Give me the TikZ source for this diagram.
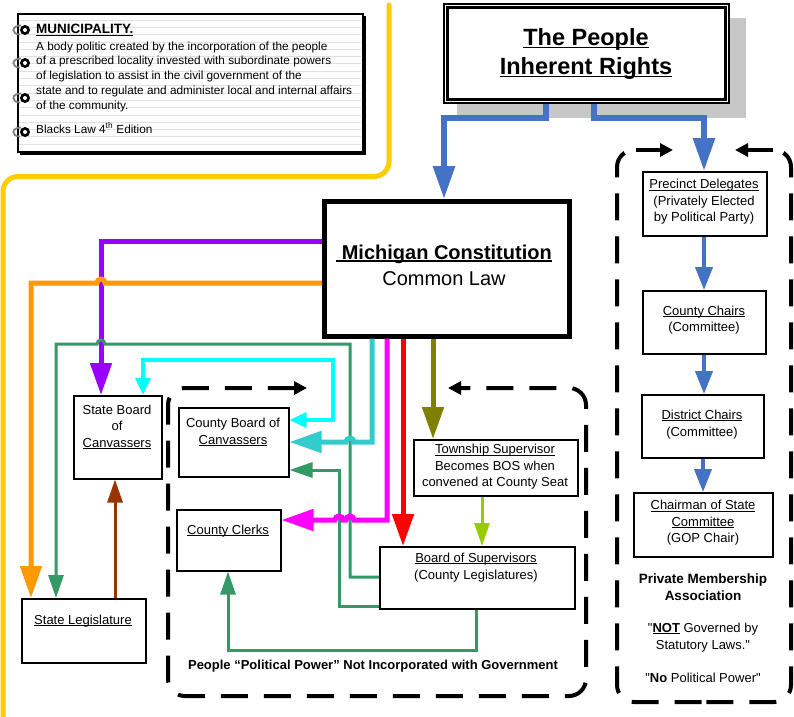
\documentclass[tikz,border=0pt]{standalone}
\usepackage{fontspec}
\setmainfont{Liberation Sans}
\newfontfamily\qfont{Liberation Sans}[Ligatures=TeXOff]
\usetikzlibrary{arrows.meta}
\newcommand{\myul}[1]{\leavevmode\setbox0\hbox{#1}\rlap{\rule[-0.14em]{\wd0}{0.075em}}\box0}
\newcommand{\sq}{{\qfont\mdseries "}}
\definecolor{cgold}{HTML}{FFCC00}
\definecolor{cblue}{HTML}{4472C4}
\definecolor{cpurple}{HTML}{9900FF}
\definecolor{corange}{HTML}{FF9900}
\definecolor{cgreen}{HTML}{339966}
\definecolor{ccyan}{HTML}{00FFFF}
\definecolor{cteal}{HTML}{33CCCC}
\definecolor{cmag}{HTML}{FF00FF}
\definecolor{cred}{HTML}{FF0000}
\definecolor{colive}{HTML}{808000}
\definecolor{cyg}{HTML}{99CC00}
\definecolor{cbrown}{HTML}{993300}
\begin{document}
\begin{tikzpicture}[x=1pt,y=-1pt,
  bx/.style={draw, line width=1.5pt, fill=white, anchor=north west, inner sep=0pt},
  tx/.style={inner sep=0pt, align=center, font=\fontsize{13}{16.5}\selectfont},
  bigtip/.style={-{Triangle[length=32pt,width=21pt]}},
  smalltip/.style={-{Triangle[length=23pt,width=15pt]}},
  dashline/.style={line width=4pt, dash pattern=on 27pt off 16pt, rounded corners=17pt},
  dbox/.style={dashline, {Triangle[length=13pt,width=13pt]}-{Triangle[length=13pt,width=13pt]}},
  inarrow/.style={line width=4pt, -{Triangle[length=13pt,width=13pt]}},
  ring/.style={gray, line width=1.8pt}
]
\useasboundingbox (0,0) rectangle (794,716);

% gold border line
\draw[cgold, line width=5pt, line cap=round, rounded corners=15pt] (389,5) -- (389,176.5) -- (3,176.5) -- (3,722);

% ---- municipality note ----
\fill[black] (20,16) rectangle (365.5,154.5);
\node[bx, minimum width=345pt, minimum height=138pt] (note) at (17,13) {};
\foreach \i in {0,...,17} \draw[black!12, line width=0.8pt] (18.5,{20+\i*7.3}) -- (361,{20+\i*7.3});
\foreach \yy in {30,63,98,132}{
  \draw[ring] (21,\yy-4.5) .. controls (11,\yy-4.5) and (11,\yy+4.5) .. (20,\yy+4.5);
  \fill[black] (25,\yy) circle[radius=5];
  \fill[white] (25,\yy) circle[radius=2];
}
\node[anchor=west, inner sep=0pt, font=\bfseries\fontsize{13.5}{15}\selectfont] (mtitle) at (36,30) {\myul{MUNICIPALITY.}};
\node[anchor=west, inner sep=0pt, align=left, font=\fontsize{11.8}{14.75}\selectfont] (mbody) at (36,76.5)
 {A body politic created by the incorporation of the people\\
  of a prescribed locality invested with subordinate powers\\
  of legislation to assist in the civil government of the\\
  state and to regulate and administer local and internal affairs\\
  of the community.};
\node[anchor=west, inner sep=0pt, font=\fontsize{11.8}{13}\selectfont] (mref) at (36,128) {Blacks Law 4\textsuperscript{th} Edition};

% ---- The People ----
\fill[black!22] (457,18) rectangle (746,118);
\node[bx, minimum width=285pt, minimum height=99pt] (ppl) at (443,3) {};
\draw[line width=3pt] ([shift={(4.5,4.5)}]ppl.north west) rectangle ([shift={(-4.5,-4.5)}]ppl.south east);
\node[inner sep=0pt, align=center, font=\bfseries\fontsize{23.5}{29}\selectfont] (pplt) at (586,53.5) {\myul{The People}\\\myul{Inherent Rights}};

% ---- Michigan Constitution ----
\node[bx, line width=4.5pt, minimum width=245pt, minimum height=135pt] (mc) at (322,199) {};
\node[inner sep=0pt, align=center, font=\fontsize{20}{26}\selectfont] (mct) at (444,265) {\textbf{\myul{\ Michigan Constitution}}\\Common Law};

% ---- dashed groups ----
\draw[dbox] (307,388) -- (168,388) -- (168,696) -- (586,696) -- (586,388) -- (448,388);
\draw[dashline, dash phase=33pt] (634,150) -- (617,150) -- (617,702) -- (704,702);
\draw[dashline, dash phase=33pt] (774,150) -- (791,150) -- (791,702) -- (704,702);
\draw[inarrow] (636,150) -- (673,150);
\draw[inarrow] (773,150) -- (735,150);

% ---- boxes ----
\node[bx, minimum width=88pt, minimum height=83pt] (sbc) at (73,395) {};
\node[tx] (sbct) at (117,427) {State Board\\of\\\myul{Canvassers}};
\node[bx, minimum width=110pt, minimum height=69pt] (cbc) at (178,407) {};
\node[tx] (cbct) at (233,432) {County Board of\\\myul{Canvassers}};
\node[bx, minimum width=104pt, minimum height=61pt] (cc) at (176,509) {};
\node[tx] (cct) at (228,531) {\myul{County Clerks}};
\node[bx, minimum width=124pt, minimum height=64pt] (sl) at (21,598) {};
\node[tx] (slt) at (83,621) {\myul{State Legislature}};
\node[bx, minimum width=164pt, minimum height=56pt] (ts) at (413,439) {};
\node[tx] (tst) at (495,467) {\myul{Township Supervisor}\\Becomes BOS when\\convened at County Seat};
\node[bx, minimum width=195pt, minimum height=62pt] (bos) at (379,546) {};
\node[tx] (bost) at (476,567.5) {\myul{Board of Supervisors}\\(County Legislatures)};

\node[bx, line width=2pt, minimum width=124pt, minimum height=64pt] (pd) at (642,171) {};
\node[tx] (pdt) at (704,202) {\myul{Precinct Delegates}\\(Privately Elected\\by Political Party)};
\node[bx, minimum width=123pt, minimum height=63pt] (cch) at (642,290) {};
\node[tx] (ccht) at (704,320) {\myul{County Chairs}\\(Committee)};
\node[bx, minimum width=122pt, minimum height=63pt] (dch) at (641,394) {};
\node[tx] (dcht) at (702,424.5) {\myul{District Chairs}\\(Committee)};
\node[bx, minimum width=139pt, minimum height=64pt] (csc) at (633,492) {};
\node[tx] (csct) at (703,523) {\myul{Chairman of State}\\\myul{Committee}\\(GOP Chair)};

\node[tx, font=\bfseries\fontsize{13.5}{17}\selectfont] (pma) at (703,587.5) {Private Membership\\Association};
\node[tx] (notg) at (703,637.5) {\sq\textbf{\myul{NOT}} Governed by\\Statutory Laws.\sq};
\node[tx] (nopp) at (703,678) {\sq\textbf{No} Political Power\sq};
\node[tx, font=\bfseries\fontsize{13}{16}\selectfont] (ppnote) at (373,666) {People “Political Power” Not Incorporated with Government};

% ---- connectors ----
\draw[cblue, line width=6pt, -{Triangle[length=33pt,width=21pt]}] (546,0 |- ppl.south) -- (546,118) -- (444,118) -- (444,0 |- mc.north);
\draw[cblue, line width=6pt, -{Triangle[length=33pt,width=21pt]}] (594,0 |- ppl.south) -- (594,118) -- (704,118) -- (704,0 |- pd.north);

\draw[cblue, line width=4pt, -{Triangle[length=23pt,width=17pt]}] (704,0 |- pd.south) -- (704,0 |- cch.north);
\draw[cblue, line width=4pt, -{Triangle[length=23pt,width=17pt]}] (704,0 |- cch.south) -- (704,0 |- dch.north);
\draw[cblue, line width=4pt, -{Triangle[length=23pt,width=17pt]}] (703,0 |- dch.south) -- (703,0 |- csc.north);

\draw[cpurple, line width=5pt, bigtip] (mc.west |- 0,241) -- (101,241) -- (101,0 |- sbc.north);
\draw[corange, line width=5pt, bigtip] (mc.west |- 0,283) -- (105,283) arc[start angle=0, end angle=-180, radius=4] -- (31,283) -- (31,0 |- sl.north);

\draw[cgreen, line width=3pt, smalltip] (bos.west |- 0,577) -- (350,577) -- (350,344) -- (105,344) arc[start angle=0, end angle=-180, radius=4] -- (56,344) -- (56,0 |- sl.north);
\draw[cgreen, line width=3pt, smalltip] (bos.west |- 0,606) -- (339,606) -- (339,470) -- (cbc.east |- 0,470);
\draw[cgreen, line width=3pt, smalltip] (476,0 |- bos.south) -- (476,650) -- (228,650) -- (228,0 |- cc.south);

\draw[ccyan, line width=3.5pt, {Triangle[length=17pt,width=15pt]}-{Triangle[length=17pt,width=15pt]}] (cbc.east |- 0,420) -- (333,420) -- (333,360) -- (143,360) -- (143,0 |- sbc.north);
\draw[cteal, line width=5pt, bigtip] (372,0 |- mc.south) -- (372,442) -- (354,442) arc[start angle=0, end angle=-180, radius=4] -- (cbc.east |- 0,442);
\draw[cmag, line width=5pt, bigtip] (387,0 |- mc.south) -- (387,520) -- (354,520) arc[start angle=0, end angle=-180, radius=4] -- (343,520) arc[start angle=0, end angle=-180, radius=4] -- (cc.east |- 0,520);
\draw[cred, line width=5pt, bigtip] (403,0 |- mc.south) -- (403,0 |- bos.north);
\draw[colive, line width=5pt, bigtip] (433,0 |- mc.south) -- (433,0 |- ts.north);
\draw[cyg, line width=3pt, smalltip] (482,0 |- ts.south) -- (482,0 |- bos.north);
\draw[cbrown, line width=3pt, smalltip] (115,0 |- sl.north) -- (115,0 |- sbc.south);
\end{tikzpicture}
\end{document}
